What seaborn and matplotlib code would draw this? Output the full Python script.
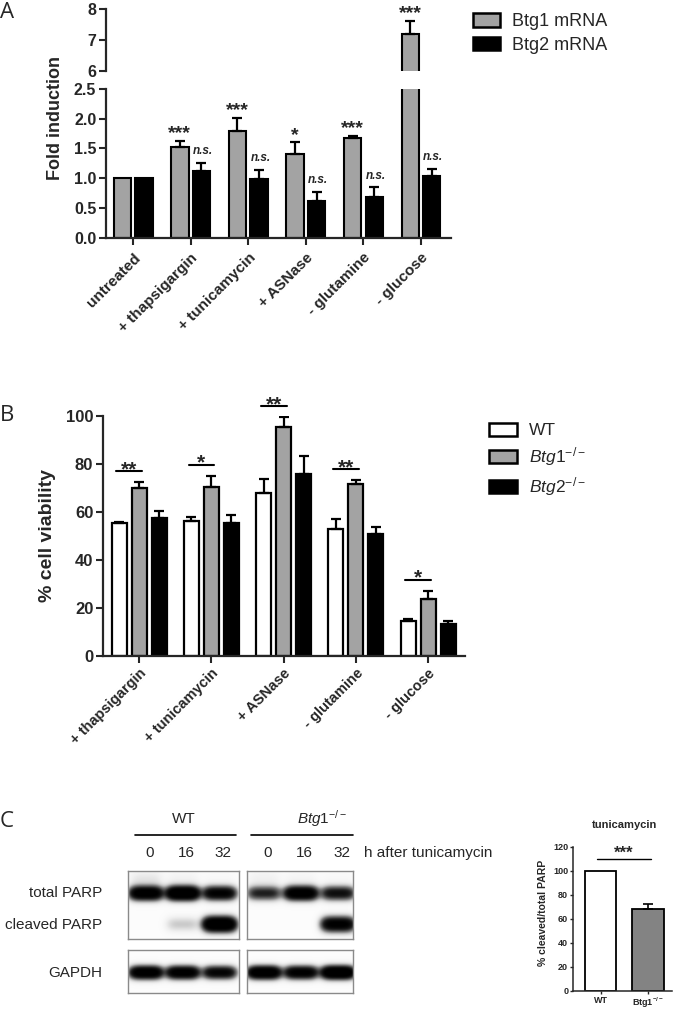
import numpy as np
import pandas as pd
import matplotlib
matplotlib.use("Agg")
import matplotlib.pyplot as plt
import seaborn as sns
from matplotlib.patches import Patch
from matplotlib.lines import Line2D

# ---- panel A: fold induction (mean, upper SEM) ----
conditions_a = ["untreated", "+ thapsigargin", "+ tunicamycin", "+ ASNase", "- glutamine", "- glucose"]
btg1_mrna = [1.00, 1.53, 1.80, 1.41, 1.68, 7.18]
btg1_mrna_err = [0.00, 0.10, 0.22, 0.19, 0.03, 0.44]
btg2_mrna = [1.00, 1.12, 0.99, 0.62, 0.68, 1.04]
btg2_mrna_err = [0.00, 0.14, 0.15, 0.15, 0.17, 0.12]
sig_btg1 = ["", "***", "***", "*", "***", "***"]
sig_btg2 = ["", "n.s.", "n.s.", "n.s.", "n.s.", "n.s."]

# ---- panel B: % cell viability ----
conditions_b = ["+ thapsigargin", "+ tunicamycin", "+ ASNase", "- glutamine", "- glucose"]
via_wt = [55.2, 56.1, 67.6, 52.7, 14.6]
via_wt_err = [0.6, 1.5, 5.9, 4.1, 0.8]
via_btg1 = [69.7, 70.2, 95.2, 71.5, 23.6]
via_btg1_err = [2.5, 4.8, 4.1, 1.7, 3.5]
via_btg2 = [57.2, 55.2, 75.7, 50.7, 13.2]
via_btg2_err = [3.0, 3.4, 7.5, 3.0, 1.4]
sig_b = ["**", "*", "**", "**", "*"]

# ---- panel C: western blot band strength (0-1) and quantification ----
lanes_h = ["0", "16", "32"]
haze_wt = [0.05, 0.025, 0.01]
haze_ko = [0.03, 0.02, 0.01]
total_parp_wt = [0.85, 1.00, 0.70]
total_parp_ko = [0.45, 0.85, 0.55]
cleaved_parp_wt = [0.00, 0.10, 1.00]
cleaved_parp_ko = [0.00, 0.00, 0.75]
gapdh_wt = [0.85, 0.80, 0.65]
gapdh_ko = [0.90, 0.75, 1.00]
parp_groups = ["WT", "Btg1-/-"]
parp_ratio = [100, 68]
parp_ratio_err = [0, 4.3]

GRAY = "#a3a3a3"
sns.set_theme(style="ticks")
plt.rcParams["font.family"] = ["Liberation Sans", "DejaVu Sans"]
plt.rcParams["mathtext.fontset"] = "custom"
plt.rcParams["mathtext.rm"] = "Liberation Sans"
plt.rcParams["mathtext.it"] = "Liberation Sans:italic"
plt.rcParams["mathtext.bf"] = "Liberation Sans:bold"

W, H = 675, 1009
fig = plt.figure(figsize=(W / 100, H / 100), dpi=100)


def px_axes(x0, y0, x1, y1):
    return fig.add_axes([x0 / W, 1 - y1 / H, (x1 - x0) / W, (y1 - y0) / H])


def px_text(x, y, s, **kw):
    return fig.text(x / W, 1 - y / H, s, **kw)


def add_errorbars(ax, errs, lw):
    # upper-only error bars on top of each seaborn bar
    for container, err in zip(ax.containers, errs):
        for bar, e in zip(container, err):
            if e <= 0:
                continue
            x = bar.get_x() + bar.get_width() / 2
            y = bar.get_height()
            ax.errorbar(x, y, yerr=[[0], [e]], fmt="none", ecolor="black",
                        elinewidth=lw, capsize=3.8, capthick=lw, zorder=1)


# ================= A =================
df_a = pd.DataFrame({
    "condition": conditions_a * 2,
    "gene": ["Btg1 mRNA"] * 6 + ["Btg2 mRNA"] * 6,
    "fold": btg1_mrna + btg2_mrna,
})
pal_a = {"Btg1 mRNA": GRAY, "Btg2 mRNA": "black"}

ax_lo = px_axes(106, 89, 451, 237.5)
ax_hi = px_axes(106, 9, 451, 71)
for ax in (ax_lo, ax_hi):
    sns.barplot(data=df_a, x="condition", y="fold", hue="gene", palette=pal_a,
                width=0.75, gap=0.2, edgecolor="black", linewidth=1.5,
                errorbar=None, legend=False, ax=ax)
    add_errorbars(ax, [btg1_mrna_err, btg2_mrna_err], 1.6)
    ax.set_xlim(-0.47, 5.52)
    ax.set_xlabel("")
    ax.set_ylabel("")
    for s in ("top", "right"):
        ax.spines[s].set_visible(False)
    ax.spines["left"].set_linewidth(1.6)
    ax.spines["bottom"].set_linewidth(1.6)
    ax.tick_params(width=1.5, length=5, pad=2)

ax_lo.set_ylim(0, 2.5)
ax_lo.set_yticks(np.arange(0, 2.51, 0.5), labels=[f"{v:.1f}" for v in np.arange(0, 2.51, 0.5)],
                 fontweight="bold", fontsize=11.5)
ax_lo.set_xticks(range(len(conditions_a)), labels=conditions_a, rotation=45, ha="right",
                 rotation_mode="anchor", fontweight="bold", fontsize=11)
ax_lo.tick_params(axis="x", pad=4.5)

ax_hi.set_ylim(6, 8)
ax_hi.set_yticks([6, 7, 8], labels=["6", "7", "8"], fontweight="bold", fontsize=11.5)
ax_hi.spines["bottom"].set_visible(False)
ax_hi.set_xticks([])

for i in range(len(conditions_a)):
    for container, vals, errs, sigs in ((ax_lo.containers[0], btg1_mrna, btg1_mrna_err, sig_btg1),
                                        (ax_lo.containers[1], btg2_mrna, btg2_mrna_err, sig_btg2)):
        if not sigs[i]:
            continue
        bar = container[i]
        x = bar.get_x() + bar.get_width() / 2
        top = vals[i] + errs[i]
        ax = ax_hi if top > 2.5 else ax_lo
        if sigs[i] == "n.s.":
            ax.annotate(sigs[i], (x, top), xytext=(1, 6), textcoords="offset points",
                        ha="center", va="baseline", fontsize=8.5, fontweight="bold",
                        fontstyle="italic", annotation_clip=False)
        else:
            ax.annotate(sigs[i], (x, top), xytext=(0, 2), textcoords="offset points",
                        ha="center", va="baseline", fontsize=14, fontweight="bold",
                        annotation_clip=False)

px_text(55, 118, "Fold induction", rotation=90, ha="center", va="center",
        fontsize=13, fontweight="bold")
ax_lo.legend(handles=[Patch(facecolor=GRAY, edgecolor="black", linewidth=1.8),
                      Patch(facecolor="black", edgecolor="black", linewidth=1.8)],
             labels=["Btg1 mRNA", "Btg2 mRNA"], loc="upper left",
             bbox_to_anchor=(473 / W, 1 - 13 / H), bbox_transform=fig.transFigure,
             frameon=False, fontsize=13, borderpad=0, borderaxespad=0,
             handlelength=1.5, handleheight=0.8, handletextpad=0.65, labelspacing=0.35)

# ================= B =================
groups_b = ["WT", "Btg1-/-", "Btg2-/-"]
df_b = pd.DataFrame({
    "condition": conditions_b * 3,
    "genotype": [g for g in groups_b for _ in conditions_b],
    "viability": via_wt + via_btg1 + via_btg2,
})
pal_b = {"WT": "white", "Btg1-/-": GRAY, "Btg2-/-": "black"}

ax_b = px_axes(103, 415.7, 465, 655.7)
sns.barplot(data=df_b, x="condition", y="viability", hue="genotype", palette=pal_b,
            width=0.83, gap=0.25, edgecolor="black", linewidth=1.6,
            errorbar=None, legend=False, ax=ax_b)
add_errorbars(ax_b, [via_wt_err, via_btg1_err, via_btg2_err], 1.6)
ax_b.set_xlim(-0.5, 4.51)
ax_b.set_ylim(0, 100)
ax_b.set_xlabel("")
ax_b.set_ylabel("")
for s in ("top", "right"):
    ax_b.spines[s].set_visible(False)
ax_b.spines["left"].set_linewidth(1.6)
ax_b.spines["bottom"].set_linewidth(1.6)
ax_b.tick_params(width=1.5, length=5, pad=2)
ax_b.set_yticks(range(0, 101, 20), labels=[str(v) for v in range(0, 101, 20)],
                fontweight="bold", fontsize=12)
ax_b.set_xticks(range(len(conditions_b)), labels=conditions_b, rotation=45, ha="right",
                rotation_mode="anchor", fontweight="bold", fontsize=10.5)
ax_b.tick_params(axis="x", pad=2.5)

for i, s in enumerate(sig_b):
    b_wt = ax_b.containers[0][i]
    b_k1 = ax_b.containers[1][i]
    x0 = b_wt.get_x() + b_wt.get_width() / 2 - 0.04
    x1 = b_k1.get_x() + b_k1.get_width() / 2 + 0.04
    y = via_btg1[i] + via_btg1_err[i] + 4.6
    ax_b.plot([x0, x1], [y, y], color="black", lw=1.5, clip_on=False)
    ax_b.annotate(s, ((x0 + x1) / 2, y), xytext=(0, -3), textcoords="offset points",
                  ha="center", va="baseline", fontsize=15, fontweight="bold",
                  annotation_clip=False)

px_text(47, 535, "% cell viability", rotation=90, ha="center", va="center",
        fontsize=14, fontweight="bold")
ax_b.legend(handles=[Patch(facecolor=pal_b[g], edgecolor="black", linewidth=1.8) for g in groups_b],
            labels=["WT", r"$\mathit{Btg1}^{\mathit{-/-}}$", r"$\mathit{Btg2}^{\mathit{-/-}}$"],
            loc="upper left", bbox_to_anchor=(489 / W, 1 - 423 / H), bbox_transform=fig.transFigure,
            frameon=False, fontsize=12.5, borderpad=0, borderaxespad=0,
            handlelength=1.6, handleheight=0.75, handletextpad=0.7, labelspacing=0.4)


# ================= C: blot =================
def draw_blot(rect, xlim, rows, height):
    ax = px_axes(*rect)
    xs = np.linspace(xlim[0], xlim[1], 300)
    ys = np.arange(0, height, 0.5)
    X, Y = np.meshgrid(xs, ys)
    dens = np.zeros_like(X)
    for vals, yc, sy in rows:
        for lane, v in enumerate(vals):
            dens += v * np.exp(-((X - lane) / 0.45) ** 4) * np.exp(-((Y - yc) / sy) ** 2)
    img = np.tanh(3.0 * dens) + 0.025
    ax.imshow(img, cmap="Greys", vmin=0, vmax=1, extent=(xlim[0], xlim[1], height, 0),
              aspect="auto", interpolation="bilinear")
    ax.set_xlim(*xlim)
    ax.set_ylim(height, 0)
    ax.set_xticks([])
    ax.set_yticks([])
    for sp in ax.spines.values():
        sp.set_color("#8a8a8a")
        sp.set_linewidth(1.0)
    return ax


xl_wt, xl_ko = (-0.49, 2.55), (-0.46, 2.4)
blot_wt = draw_blot((128, 871, 239, 939), xl_wt,
                    [(haze_wt, 8, 9.0), (total_parp_wt, 22, 6.5), (cleaved_parp_wt, 53, 7.0)], 68)
blot_ko = draw_blot((247, 871, 353, 939), xl_ko,
                    [(haze_ko, 8, 9.0), (total_parp_ko, 22, 6.5), (cleaved_parp_ko, 53, 7.0)], 68)
draw_blot((128, 950, 239, 992.5), xl_wt, [(gapdh_wt, 22, 6.0)], 42.5)
draw_blot((247, 950, 353, 992.5), xl_ko, [(gapdh_ko, 22, 6.0)], 42.5)

for ax in (blot_wt, blot_ko):
    for lane, lbl in enumerate(lanes_h):
        ax.text(lane + 0.1, -18, lbl, ha="center", va="center", fontsize=11, clip_on=False)
px_text(364, 853, "h after tunicamycin", ha="left", va="center", fontsize=11)
px_text(184, 819, "WT", ha="center", va="center", fontsize=11)
px_text(322, 819, r"$\mathit{Btg1}^{\mathit{-/-}}$", ha="center", va="center", fontsize=11)
fig.add_artist(Line2D([135 / W, 236 / W], [1 - 835 / H] * 2, color="black", lw=1.2))
fig.add_artist(Line2D([251 / W, 353 / W], [1 - 835 / H] * 2, color="black", lw=1.2))
px_text(102, 893, "total PARP", ha="right", va="center", fontsize=11)
px_text(102, 925, "cleaved PARP", ha="right", va="center", fontsize=11)
px_text(102, 973, "GAPDH", ha="right", va="center", fontsize=11)

# ================= C: quantification =================
ax_c = px_axes(573, 846.7, 672, 990.7)
sns.barplot(x=parp_groups, y=parp_ratio, hue=parp_groups, palette=["white", "#838383"],
            width=0.66, edgecolor="black", linewidth=1.3, errorbar=None, legend=False, ax=ax_c)
add_errorbars(ax_c, [[parp_ratio_err[i]] for i in range(2)], 1.2)
ax_c.set_xlim(-0.58, 1.5)
ax_c.set_ylim(0, 120)
for s in ("top", "right"):
    ax_c.spines[s].set_visible(False)
ax_c.spines["left"].set_linewidth(1.1)
ax_c.spines["bottom"].set_linewidth(1.1)
ax_c.tick_params(width=1.0, length=2.5, pad=1.0)
ax_c.set_yticks(range(0, 121, 20), labels=[str(v) for v in range(0, 121, 20)],
                fontweight="bold", fontsize=6.5)
ax_c.set_xticks([0, 1], labels=["WT", r"Btg1$^{\mathbf{-/-}}$"], fontweight="bold", fontsize=6.5)
cx0, cx1 = -0.08, 1.06
ax_c.plot([cx0, cx1], [110, 110], color="black", lw=1.0, clip_on=False)
ax_c.annotate("***", ((cx0 + cx1) / 2, 110), xytext=(0, 1), textcoords="offset points",
              ha="center", va="baseline", fontsize=12, fontweight="bold", annotation_clip=False)
px_text(625, 825, "tunicamycin", ha="center", va="center", fontsize=8, fontweight="bold")
px_text(543, 913, "% cleaved/total PARP", rotation=90, ha="center", va="center",
        fontsize=7.5, fontweight="bold")

# panel letters
for lbl, y in (("A", 2), ("B", 405), ("C", 811)):
    px_text(0, y, lbl, ha="left", va="top", fontsize=16, family="Open Sans")

fig.savefig("out.png", dpi=100)
